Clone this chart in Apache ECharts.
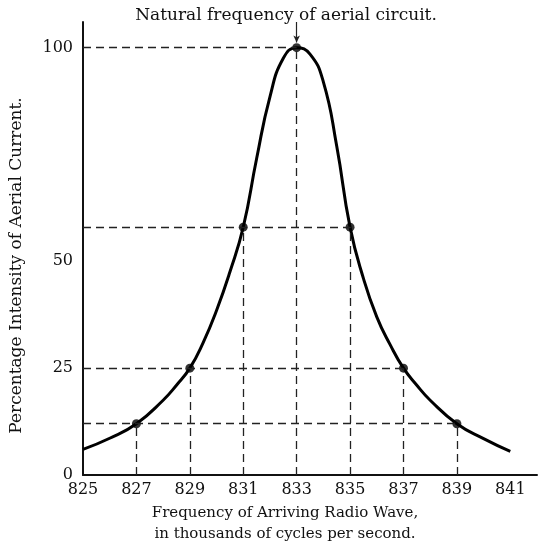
<!DOCTYPE html>
<html>
<head>
<meta charset="utf-8">
<script src="https://cdn.jsdelivr.net/npm/echarts@6/dist/echarts.min.js"></script>
<style>
  html, body { margin: 0; background: #fff; }
  #chart { width: 540px; height: 552px; }
</style>
</head>
<body>
<div id="chart"></div>
<script>
// resonance curve (freq in kc/s, percent of max current)
const curveFreq = [825, 826, 827, 828, 828.5, 829, 829.5, 830, 830.5, 831, 831.5, 832, 832.5, 833,
                   833.5, 834, 834.5, 835, 835.5, 836, 836.5, 837, 837.5, 838, 839, 840, 841];
const curvePct  = [6, 8.6, 12, 17.5, 21, 25, 31, 38.5, 47.5, 58, 74, 88.5, 97.5, 100,
                   98.5, 92, 77, 58, 46, 37, 30.5, 25, 21, 17.5, 12, 8.5, 5.5];

// the marked points with their dashed guides
const markFreq = [827, 829, 831, 833, 835, 837, 839];
const markPct  = [12, 25, 58, 100, 58, 25, 12];

const xTickLabels = [825, 827, 829, 831, 833, 835, 837, 839, 841];
const yTickLabels = [0, 25, 50, 100];

const titleText = 'Natural frequency of aerial circuit.';
const xName = 'Frequency of Arriving Radio Wave,\nin thousands of cycles per second.';
const yName = 'Percentage Intensity of Aerial Current.';

const font = 'DejaVu Serif';

// dashed guide lines: horizontal from the y axis to the farthest point at that level,
// vertical from each point down to the x axis
function guideLines() {
  const lines = [];
  const levels = {};
  markFreq.forEach((f, i) => {
    const v = markPct[i];
    if (levels[v] === undefined || f > levels[v]) levels[v] = f;
    lines.push([{ coord: [f, 0] }, { coord: [f, v] }]);
  });
  Object.keys(levels).forEach(v => {
    lines.push([{ coord: [825, +v] }, { coord: [levels[v], +v] }]);
  });
  return lines;
}

const chart = echarts.init(document.getElementById('chart'));

chart.setOption({
  backgroundColor: '#fff',
  animation: false,
  title: {
    text: titleText,
    left: 281,
    top: 2,
    textAlign: 'center',
    textStyle: { fontFamily: font, fontSize: 17, fontWeight: 'normal', color: '#111' }
  },
  grid: { left: 81, right: 0, top: 22, bottom: 77 },
  xAxis: {
    type: 'value',
    min: 825,
    max: 842,
    interval: 1,
    name: xName,
    nameLocation: 'middle',
    nameGap: 24,
    nameTextStyle: {
      fontFamily: font, fontSize: 15, color: '#111', lineHeight: 21,
      padding: [0, 50, 0, 0]
    },
    axisLine: { lineStyle: { color: '#111', width: 2 } },
    axisTick: { show: false },
    splitLine: { show: false },
    axisLabel: {
      margin: 7,
      fontFamily: font, fontSize: 16, color: '#111',
      formatter: v => xTickLabels.indexOf(v) >= 0 ? String(v) : ''
    }
  },
  yAxis: {
    type: 'value',
    min: 0,
    max: 106,
    interval: 25,
    name: yName,
    nameLocation: 'middle',
    nameGap: 58,
    nameTextStyle: {
      fontFamily: font, fontSize: 17, color: '#111',
      padding: [0, 34, 0, 0]
    },
    axisLine: { show: true, lineStyle: { color: '#111', width: 2 } },
    axisTick: { show: false },
    splitLine: { show: false },
    axisLabel: {
      margin: 10,
      fontFamily: font, fontSize: 16, color: '#111',
      formatter: v => yTickLabels.indexOf(v) >= 0 ? String(v) : ''
    }
  },
  series: [
    {
      type: 'line',
      data: curveFreq.map((f, i) => [f, curvePct[i]]),
      smooth: 0.5,
      symbol: 'none',
      lineStyle: { color: '#000', width: 3 },
      markLine: {
        silent: true,
        symbol: 'none',
        label: { show: false },
        lineStyle: { color: '#222', width: 1.3, type: [8, 5] },
        data: guideLines()
      },
      z: 3
    },
    {
      type: 'scatter',
      data: markFreq.map((f, i) => [f, markPct[i]]),
      symbolSize: 9,
      itemStyle: { color: '#000' },
      z: 4,
      markLine: {
        silent: true,
        symbol: ['none', 'arrow'],
        symbolSize: [5, 7],
        label: { show: false },
        lineStyle: { color: '#222', width: 1.2, type: 'solid' },
        data: [[{ coord: [833, 106] }, { coord: [833, 101.2] }]]
      }
    }
  ]
});
</script>
</body>
</html>
